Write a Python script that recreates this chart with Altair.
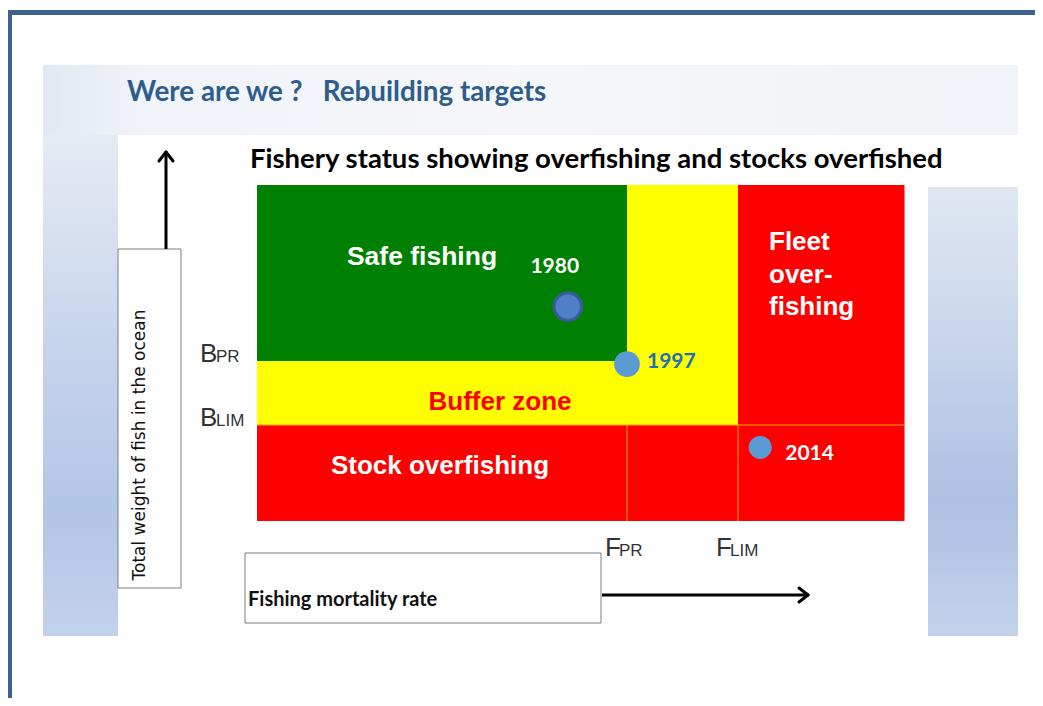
import altair as alt
import pandas as pd

# ---------------- data ----------------
# Reference points (fishing mortality F relative to F_PR, biomass B relative to B_PR)
F_PR = 1.0
F_LIM = 1.3
F_MAX = 1.75
B_PR = 1.0
B_LIM = 0.6
B_MAX = 2.1

years = [1980, 1997, 2014]
years_F = [0.84, 1.0, 1.36]
years_B = [1.34, 0.98, 0.46]

zone_names = ["Safe fishing", "Buffer low", "Buffer right", "Fleet overfishing", "Stock overfishing"]
zone_f0 = [0, 0, F_PR, F_LIM, 0]
zone_f1 = [F_PR, F_LIM, F_LIM, F_MAX, F_MAX]
zone_b0 = [B_PR, B_LIM, B_PR, B_LIM, 0]
zone_b1 = [B_MAX, B_PR, B_MAX, B_MAX, B_LIM]
zone_colors = ["#008000", "#ffff00", "#ffff00", "#ff0000", "#ff0000"]

TITLE = "Were are we ?\u00a0\u00a0\u00a0Rebuilding targets"
SUBTITLE = "Fishery status showing overfishing and stocks overfished"
Y_TITLE = "Total weight of fish in the ocean"
X_TITLE = "Fishing mortality rate"

# ---------------- tables ----------------
zones = pd.DataFrame(dict(zone=zone_names, f0=zone_f0, f1=zone_f1, b0=zone_b0, b1=zone_b1, color=zone_colors))
points = pd.DataFrame(dict(year=years, F=years_F, B=years_B))
vlines = pd.DataFrame(dict(F=[F_PR, F_LIM], b0=[0, 0], b1=[B_LIM, B_LIM]))
hline = pd.DataFrame(dict(B=[B_LIM], f0=[0], f1=[F_MAX]))
blabels = pd.DataFrame(dict(B=[B_PR, B_LIM], sub=["PR", "LIM"]))
flabels = pd.DataFrame(dict(F=[F_PR, F_LIM], sub=["PR", "LIM"]))
one = pd.DataFrame(dict(k=[0]))

xs = alt.Scale(domain=[0, F_MAX], range=[249, 249 + F_MAX * 370], nice=False, zero=False)
ys = alt.Scale(domain=[0, B_MAX], range=[513, 513 - B_MAX * 160], nice=False, zero=False)


def box(x, x2, y, y2, **kw):
    return alt.Chart(one).mark_rect(**kw).encode(
        x=alt.value(x), x2=alt.value(x2), y=alt.value(y), y2=alt.value(y2))


def seg(x, y, x2, y2, **kw):
    return alt.Chart(one).mark_rule(**kw).encode(
        x=alt.value(x), x2=alt.value(x2), y=alt.value(y), y2=alt.value(y2))


def label(text, x, y, **kw):
    return alt.Chart(one).mark_text(**kw).encode(
        x=alt.value(x), y=alt.value(y), text=alt.value(text))


def vgrad(stops):
    return alt.Gradient(gradient="linear", x1=0, x2=0, y1=0, y2=1,
                        stops=[alt.GradientStop(color=c, offset=o) for o, c in stops])


def hgrad(stops):
    return alt.Gradient(gradient="linear", x1=0, x2=1, y1=0, y2=0,
                        stops=[alt.GradientStop(color=c, offset=o) for o, c in stops])


# ---------------- background / slide ----------------
frame_color = "#3d6190"
layers = [
    box(0, 1027, 2, 7, color=frame_color),
    box(0, 4, 2, 690, color=frame_color),
    box(35, 1010, 57, 127, fill=hgrad([(0, "#e2e8f2"), (0.1, "#f0f3f8"), (0.5, "#f5f7fa"), (1, "#f0f3f7")])),
    box(35, 110, 127, 628, fill=vgrad([(0, "#e6ebf4"), (0.35, "#cbd8ed"), (0.75, "#b2c6e7"), (1, "#c3d2ec")])),
    box(920, 1010, 179, 628, fill=vgrad([(0, "#e0e7f2"), (0.4, "#c4d2ea"), (0.7, "#adc1e5"), (1, "#c4d2eb")])),
    box(110, 920, 127, 628, color="#ffffff"),
    box(920, 1010, 127, 179, color="#ffffff"),
]

# ---------------- zones ----------------
zone_layer = alt.Chart(zones).mark_rect().encode(
    x=alt.X("f0:Q", scale=xs, axis=None), x2="f1:Q",
    y=alt.Y("b0:Q", scale=ys, axis=None), y2="b1:Q",
    color=alt.Color("color:N", scale=None),
)
vline_layer = alt.Chart(vlines).mark_rule(color="#ffa500", strokeWidth=1).encode(
    x=alt.X("F:Q", scale=xs, axis=None), y=alt.Y("b0:Q", scale=ys, axis=None), y2="b1:Q")
hline_layer = alt.Chart(hline).mark_rule(color="#ffa500", strokeWidth=1).encode(
    y=alt.Y("B:Q", scale=ys, axis=None), x=alt.X("f0:Q", scale=xs, axis=None), x2="f1:Q")
layers += [zone_layer, vline_layer, hline_layer]

# ---------------- zone texts ----------------
zf = "Liberation Sans"
layers += [
    label("Safe fishing", 414, 249, font=zf, fontSize=26.5, fontWeight="bold", color="white", align="center"),
    label("Fleet\nover-\nfishing", 761, 234, font=zf, fontSize=26, fontWeight="bold", color="white",
          align="left", lineBreak="\n", lineHeight=32.5),
    label("Buffer zone", 492, 394, font=zf, fontSize=26, fontWeight="bold", color="#ff0000", align="center"),
    label("Stock overfishing", 432, 458, font=zf, fontSize=26, fontWeight="bold", color="white", align="center"),
]

# ---------------- points ----------------
def pt(year, **kw):
    return alt.Chart(points).transform_filter(alt.datum.year == year).mark_point(filled=True, **kw).encode(
        x=alt.X("F:Q", scale=xs, axis=None), y=alt.Y("B:Q", scale=ys, axis=None))


def ptlabel(year, **kw):
    return alt.Chart(points).transform_filter(alt.datum.year == year).mark_text(
        font="Lato", fontSize=21, fontWeight="bold", **kw).encode(
        x=alt.X("F:Q", scale=xs, axis=None), y=alt.Y("B:Q", scale=ys, axis=None),
        text=alt.Text("year:N"))


layers += [
    pt(1980, size=760, color="#4f7fc6", stroke="#3a5a98", strokeWidth=3, opacity=1),
    pt(1997, size=660, color="#5b9bd5", opacity=1),
    pt(2014, size=530, color="#5b9bd5", opacity=1),
    ptlabel(1980, color="white", align="center", dx=-13, dy=-34, baseline="alphabetic"),
    ptlabel(1997, color="#1f6fb9", align="left", dx=20, dy=4, baseline="alphabetic"),
    ptlabel(2014, color="white", align="left", dx=25, dy=13, baseline="alphabetic"),
]

# ---------------- reference point labels ----------------
lc = "#333333"
layers += [
    alt.Chart(blabels).mark_text(text="B", font=zf, fontSize=26, color=lc, align="left",
                                 baseline="alphabetic", dy=1).encode(
        x=alt.value(192), y=alt.Y("B:Q", scale=ys, axis=None)),
    alt.Chart(blabels).mark_text(font=zf, fontSize=17, color=lc, align="left",
                                 baseline="alphabetic", dy=1).encode(
        x=alt.value(208), y=alt.Y("B:Q", scale=ys, axis=None), text="sub:N"),
    alt.Chart(flabels).mark_text(text="F", font=zf, fontSize=26, color=lc, align="left",
                                 baseline="alphabetic", dx=-22).encode(
        x=alt.X("F:Q", scale=xs, axis=None), y=alt.value(548)),
    alt.Chart(flabels).mark_text(font=zf, fontSize=17, color=lc, align="left",
                                 baseline="alphabetic", dx=-8).encode(
        x=alt.X("F:Q", scale=xs, axis=None), y=alt.value(548), text="sub:N"),
]

# ---------------- axis boxes & arrows ----------------
layers += [
    box(110, 173, 241, 580, color="white", stroke="#7f7f7f", strokeWidth=1),
    label(Y_TITLE, 132, 437, font="DejaVu Sans", fontSize=17,
          color="#111111", angle=270, align="center", baseline="middle"),
    seg(158, 145, 158, 241, color="black", strokeWidth=3),
    seg(158, 144, 151, 153, color="black", strokeWidth=3, strokeCap="round"),
    seg(158, 144, 165, 153, color="black", strokeWidth=3, strokeCap="round"),
    box(237, 593, 545, 615, color="white", stroke="#7f7f7f", strokeWidth=1),
    label(X_TITLE, 240, 592, font="Lato", fontSize=20, fontWeight="bold",
          color="#111111", align="left", baseline="middle"),
    seg(594, 587, 799, 587, color="black", strokeWidth=3),
    seg(800, 587, 791, 580, color="black", strokeWidth=3, strokeCap="round"),
    seg(800, 587, 791, 594, color="black", strokeWidth=3, strokeCap="round"),
]

# ---------------- titles ----------------
layers += [
    label(TITLE, 119, 93, font="Lato", fontSize=27.8, fontWeight="bold",
          color="#2e5d8c", align="left", baseline="alphabetic"),
    label(SUBTITLE, 242, 160, font="Lato",
          fontSize=27.5, fontWeight="bold", color="#000000", align="left", baseline="alphabetic"),
]

chart = alt.layer(*layers).properties(
    width=1027, height=690, padding=0, autosize="none", background="white"
).configure_view(stroke=None)

chart.save("out.html", embed_options={"renderer": "svg", "actions": False})
